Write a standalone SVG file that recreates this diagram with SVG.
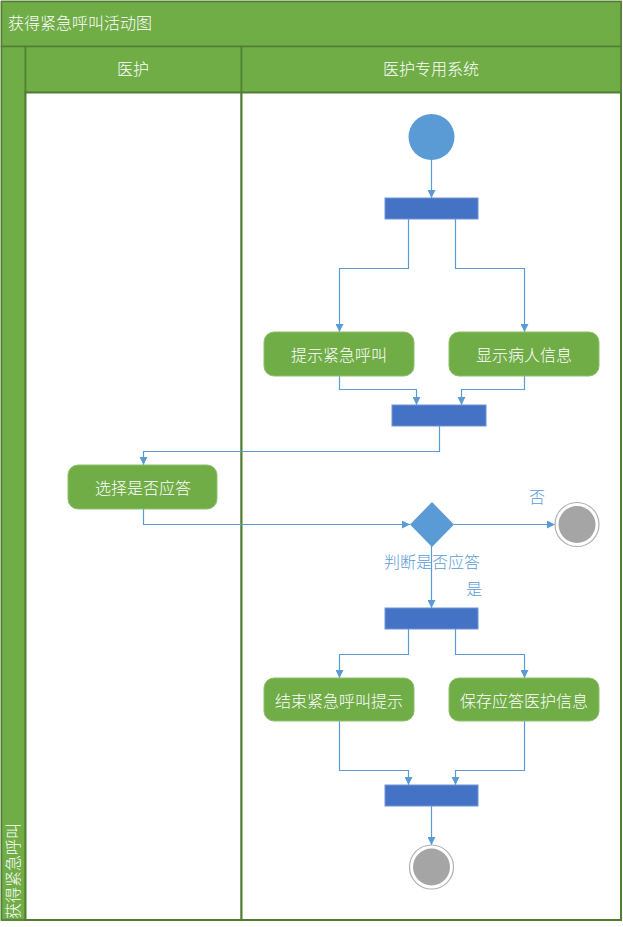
<svg xmlns="http://www.w3.org/2000/svg" width="623" height="927" viewBox="0 0 623 927">
  <style>
    .band { fill: #70ad47; stroke: #507e32; stroke-width: 1.5; }
    .lane { fill: #ffffff; stroke: #507e32; stroke-width: 2; }
    .hdr { font-family: "Noto Sans CJK SC", "Liberation Sans", sans-serif; font-size: 16px; font-weight: 300; fill: #ffffff; }
    .act rect { fill: #70ad47; stroke: #8dbf6a; stroke-width: 1; }
    .act text { font-family: "Noto Sans CJK SC", "Liberation Sans", sans-serif; font-size: 16px; font-weight: 300; fill: #ffffff; text-anchor: middle; dominant-baseline: central; }
    .bar { fill: #4472c4; stroke: #6f94d6; stroke-width: 1; }
    .edge { fill: none; stroke: #5b9bd5; stroke-width: 1.2; marker-end: url(#arrow); }
    .lbl { font-family: "Noto Sans CJK SC", "Liberation Sans", sans-serif; font-size: 16px; font-weight: 300; fill: #5b9bd5; }
  </style>
  <defs>
    <marker id="arrow" viewBox="0 0 10 10" refX="10" refY="5" markerWidth="8" markerHeight="8" markerUnits="userSpaceOnUse" orient="auto">
      <path d="M0,0 L10,5 L0,10 z" fill="#5b9bd5"/>
    </marker>
  </defs>

  <!-- pool frame -->
  <g id="pool">
    <rect class="band" x="1.5" y="1.5" width="619.5" height="918.5"/>
    <rect class="band" x="1.5" y="1.5" width="619.5" height="45"/>
    <text class="hdr" x="8" y="29">获得紧急呼叫活动图</text>
    <rect class="band" x="1.5" y="46.5" width="24" height="873.5"/>
    <text class="hdr" transform="translate(19,919) rotate(-90)">获得紧急呼叫</text>
  </g>

  <!-- lanes -->
  <g id="lane-medical">
    <rect class="band" x="25.5" y="46.5" width="216" height="46"/>
    <rect class="lane" x="25.5" y="92.5" width="216" height="827.5"/>
    <text class="hdr" x="133" y="75" text-anchor="middle">医护</text>
  </g>
  <g id="lane-system">
    <rect class="band" x="241.5" y="46.5" width="379.5" height="46"/>
    <rect class="lane" x="241.5" y="92.5" width="379.5" height="827.5"/>
    <text class="hdr" x="431" y="75" text-anchor="middle">医护专用系统</text>
  </g>

  <!-- connectors -->
  <g id="connectors">
    <path class="edge" d="M431.5,160 V198"/>
    <path class="edge" d="M408.5,219 V268.5 H339.5 V332"/>
    <path class="edge" d="M455.5,219 V268.5 H524.5 V332"/>
    <path class="edge" d="M339.5,376 V389.5 H416.5 V405"/>
    <path class="edge" d="M524.5,376 V389.5 H461.5 V405"/>
    <path class="edge" d="M439.5,426 V451.5 H143.5 V465"/>
    <path class="edge" d="M143.5,509 V524.5 H410"/>
    <path class="edge" d="M454,524.5 H555"/>
    <path class="edge" d="M431.5,546 V608"/>
    <path class="edge" d="M408.5,629 V654.5 H339.5 V678"/>
    <path class="edge" d="M455.5,629 V654.5 H524.5 V678"/>
    <path class="edge" d="M339.5,721 V770.5 H408.5 V785"/>
    <path class="edge" d="M524.5,721 V770.5 H455.5 V785"/>
    <path class="edge" d="M431.5,806 V845"/>
    <text class="lbl" x="529" y="503">否</text>
    <text class="lbl" x="384" y="568">判断是否应答</text>
    <text class="lbl" x="466" y="595">是</text>
  </g>

  <!-- nodes -->
  <g id="start">
    <circle cx="431.5" cy="137" r="23" fill="#5b9bd5"/>
  </g>
  <g id="fork1"><rect class="bar" x="385" y="198" width="93" height="21"/></g>
  <g id="show-alert" class="act">
    <rect x="264" y="332" width="150" height="44" rx="10"/>
    <text x="339" y="354">提示紧急呼叫</text>
  </g>
  <g id="show-patient" class="act">
    <rect x="449" y="332" width="150" height="44" rx="10"/>
    <text x="524" y="354">显示病人信息</text>
  </g>
  <g id="join1"><rect class="bar" x="392" y="405" width="94" height="21"/></g>
  <g id="choose-answer" class="act">
    <rect x="68" y="465" width="149" height="44" rx="10"/>
    <text x="143" y="487">选择是否应答</text>
  </g>
  <g id="decision">
    <path d="M432,502 L454,524.5 L432,547 L410,524.5 Z" fill="#5b9bd5"/>
  </g>
  <g id="end-no">
    <circle cx="577" cy="524.5" r="22" fill="#ffffff" stroke="#b0b0b0" stroke-width="1.2"/>
    <circle cx="577" cy="524.5" r="18.5" fill="#a5a5a5"/>
  </g>
  <g id="fork2"><rect class="bar" x="385" y="608" width="93" height="21"/></g>
  <g id="end-alert" class="act">
    <rect x="264" y="678" width="150" height="43" rx="10"/>
    <text x="339" y="699.5">结束紧急呼叫提示</text>
  </g>
  <g id="save-info" class="act">
    <rect x="449" y="678" width="150" height="43" rx="10"/>
    <text x="524" y="699.5">保存应答医护信息</text>
  </g>
  <g id="join2"><rect class="bar" x="385" y="785" width="93" height="21"/></g>
  <g id="end">
    <circle cx="431.5" cy="867" r="22" fill="#ffffff" stroke="#b0b0b0" stroke-width="1.2"/>
    <circle cx="431.5" cy="867" r="18.5" fill="#a5a5a5"/>
  </g>
</svg>
